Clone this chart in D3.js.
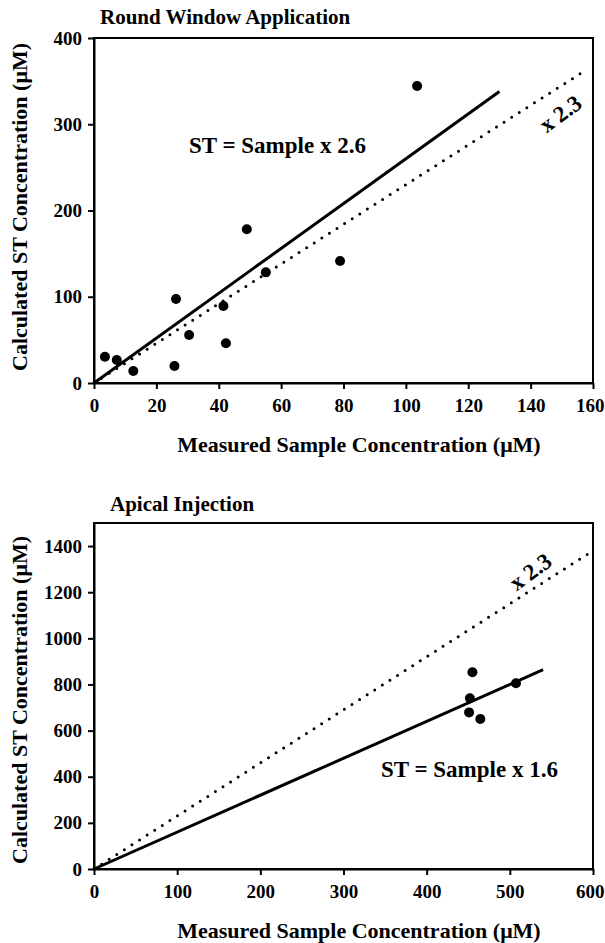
<!DOCTYPE html>
<html>
<head>
<meta charset="utf-8">
<script src="https://cdn.jsdelivr.net/npm/d3@7"></script>
<style>
  html, body { margin: 0; padding: 0; background: #fff; }
  svg text { font-family: "Liberation Serif", "Times New Roman", serif; font-weight: bold; fill: #000; }
</style>
</head>
<body>
<div id="chart"></div>
<script>
// Round window application
const rwSample = [3.5, 7.3, 12.6, 25.8, 26.3, 30.5, 41.5, 42.3, 49, 55.1, 78.9, 103.6];
const rwST = [30.5, 26.7, 14, 19.7, 97.4, 55.7, 89.3, 46, 178.2, 128.3, 141.4, 344.3];
const rwXTicks = [0, 20, 40, 60, 80, 100, 120, 140, 160];
const rwYTicks = [0, 100, 200, 300, 400];

// Apical injection
const aiSample = [452, 451, 464.5, 455, 507.4];
const aiST = [740, 679, 650, 852.6, 805];
const aiXTicks = [0, 100, 200, 300, 400, 500, 600];
const aiYTicks = [0, 200, 400, 600, 800, 1000, 1200, 1400];

const refFactor = 2.3;

const WIDTH = 605, HEIGHT = 943;

const svg = d3.select("#chart")
  .append("svg")
  .attr("width", WIDTH)
  .attr("height", HEIGHT);

function drawPanel(opt) {
  const x = d3.scaleLinear().domain(opt.xDomain).range([94, 593]);
  const y = d3.scaleLinear().domain(opt.yDomain).range([opt.bottom, opt.top]);
  const g = svg.append("g");

  // frame
  g.append("rect")
    .attr("x", 94).attr("y", opt.top)
    .attr("width", 593 - 94).attr("height", opt.bottom - opt.top)
    .attr("fill", "none")
    .attr("stroke", "#000")
    .attr("stroke-width", 2);

  const xAxis = g.append("g")
    .attr("transform", `translate(0,${opt.bottom})`)
    .call(d3.axisBottom(x).tickValues(opt.xTicks).tickFormat(d3.format("d"))
      .tickSize(6).tickSizeOuter(0).tickPadding(10));
  const yAxis = g.append("g")
    .attr("transform", "translate(94,0)")
    .call(d3.axisLeft(y).tickValues(opt.yTicks).tickFormat(d3.format("d"))
      .tickSize(6).tickSizeOuter(0).tickPadding(6));

  [xAxis, yAxis].forEach(a => {
    a.select(".domain").attr("stroke", "#000").attr("stroke-width", 2);
    a.selectAll(".tick line").attr("stroke", "#000").attr("stroke-width", 2);
    a.selectAll(".tick text").style("font-size", "19px");
  });
  // last x label sits against the page edge
  xAxis.selectAll(".tick text")
    .filter((d, i, n) => i === n.length - 1)
    .attr("text-anchor", "end")
    .attr("x", 11);

  // reference line x 2.3 (dotted)
  g.append("path")
    .datum([0, opt.dotEnd])
    .attr("fill", "none")
    .attr("stroke", "#000")
    .attr("stroke-width", 3)
    .attr("stroke-linecap", "round")
    .attr("stroke-dasharray", "0,9")
    .attr("d", d3.line().x(d => x(d)).y(d => y(d * refFactor)));

  // fit line
  g.append("path")
    .datum([0, opt.fitEnd])
    .attr("fill", "none")
    .attr("stroke", "#000")
    .attr("stroke-width", 3)
    .attr("d", d3.line().x(d => x(d)).y(d => y(d * opt.fit)));

  g.selectAll(".pt")
    .data(d3.zip(opt.xs, opt.ys))
    .enter()
    .append("circle")
    .attr("cx", d => x(d[0]))
    .attr("cy", d => y(d[1]))
    .attr("r", 5)
    .attr("fill", "#000");

  g.append("text")
    .attr("x", 94 + opt.titleDx)
    .attr("y", opt.titleY)
    .style("font-size", "21px")
    .text(opt.title);

  g.append("text")
    .attr("x", opt.eqX)
    .attr("y", opt.eqY)
    .style("font-size", "23px")
    .text(`ST = Sample x ${opt.fit}`);

  g.append("text")
    .attr("transform", `translate(${opt.refLabel[0]},${opt.refLabel[1]}) rotate(-36)`)
    .attr("text-anchor", "middle")
    .style("font-size", "23px")
    .text(`x ${refFactor}`);

  g.append("text")
    .attr("x", 359)
    .attr("y", opt.bottom + 69)
    .attr("text-anchor", "middle")
    .style("font-size", "22px")
    .text("Measured Sample Concentration (\u03BCM)");

  g.append("text")
    .attr("transform", `translate(27,${opt.yTitleY}) rotate(-90)`)
    .attr("text-anchor", "middle")
    .style("font-size", "22px")
    .text("Calculated ST Concentration (\u03BCM)");
}

drawPanel({
  xDomain: [0, 160], yDomain: [0, 400], top: 38, bottom: 383,
  xTicks: rwXTicks, yTicks: rwYTicks,
  xs: rwSample, ys: rwST,
  fit: 2.6, fitEnd: 130, dotEnd: 158,
  title: "Round Window Application", titleDx: 6, titleY: 24,
  eqX: 189, eqY: 153,
  refLabel: [565, 120],
  yTitleY: 207
});

drawPanel({
  xDomain: [0, 600], yDomain: [0, 1500], top: 523, bottom: 869,
  xTicks: aiXTicks, yTicks: aiYTicks,
  xs: aiSample, ys: aiST,
  fit: 1.6, fitEnd: 540, dotEnd: 595,
  title: "Apical Injection", titleDx: 16, titleY: 511,
  eqX: 381, eqY: 777,
  refLabel: [535, 578],
  yTitleY: 700
});
</script>
</body>
</html>
